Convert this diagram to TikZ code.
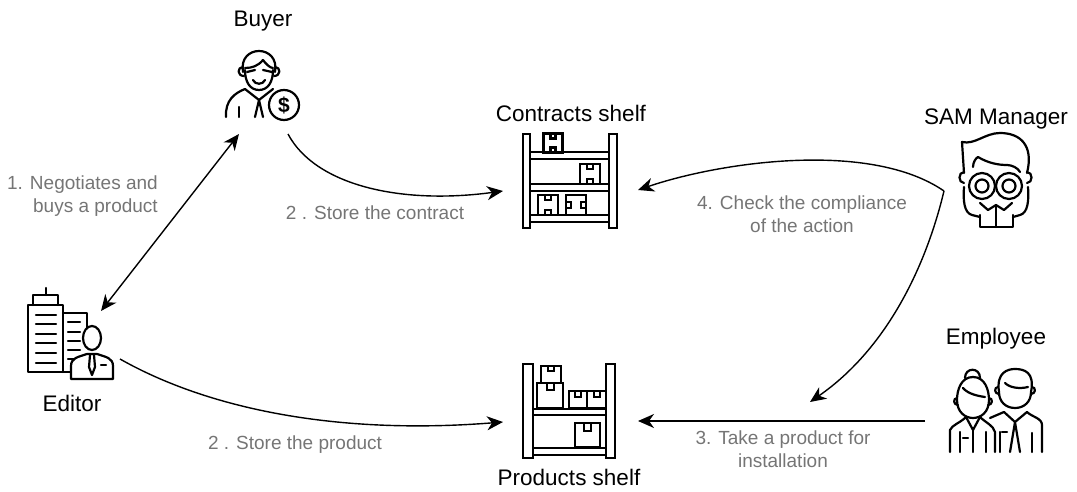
\documentclass[tikz,border=0pt]{standalone}
\usepackage{fontspec}
\setmainfont{Liberation Sans}
\usetikzlibrary{arrows.meta,positioning}
\definecolor{labelgray}{RGB}{117,117,117}
\tikzset{
    >={Stealth[length=16pt,width=14pt,inset=5pt]},
    icon/.style={line width=2.2pt, line cap=round, line join=round},
    shelf/.style={line width=2.8pt, line join=miter},
    role/.style={font=\fontsize{22.5}{24}\selectfont, text=black, inner sep=0pt, anchor=base},
    step label/.style={font=\fontsize{19}{23}\selectfont, text=labelgray, inner sep=0pt, align=center},
    flow/.style={draw, line width=1.4pt, ->},
    spot/.style={inner sep=0pt, minimum size=1pt},
    tapeh/.pic={
        \draw (-10,-10) rectangle (10,10);
        \draw (-3,-10) -- (-3,-5) -- (3,-5) -- (3,-10);
        \draw (-3,10) -- (-3,5) -- (3,5) -- (3,10);
    }
}
\begin{document}
\begin{tikzpicture}[x=1pt,y=-1pt]
    \useasboundingbox (0,0) rectangle (1077,492);
    % buyer
    \begin{scope}[icon]
        \draw (243,72) .. controls (238,44) and (280,44) .. (275,72);
        \draw (245,68) .. controls (252,68) and (258,66) .. (263,60) .. controls (266,64) and (270,68) .. (273,68);
        \draw (245,70) .. controls (245,82) and (250,90) .. (259,90) .. controls (268,90) and (273,82) .. (273,70);
        \draw (243,67) .. controls (237,67) and (237,76) .. (244,76);
        \draw (275,67) .. controls (281,67) and (281,76) .. (274,76);
        \draw (247,72) -- (255,70) (263,70) -- (272,72);
        \draw (253,80) .. controls (255,85) and (263,85) .. (265,80);
        \draw (226,117) .. controls (225,100) and (235,93) .. (245,89) -- (259,100) -- (273,89);
        \draw (239,107) -- (239,117);
        \draw (255,117) -- (259,100) -- (263,117);
        \draw[fill=white] (284,105) circle (15);
        \node[spot, font=\bfseries\fontsize{21}{21}\selectfont] (dollar) at (284,105) {\$};
    \end{scope}
    % editor
    \begin{scope}[icon]
        \draw (71,372) -- (28,372) -- (28,305) -- (63,305) -- (63,372);
        \draw (33,305) -- (33,295) -- (58,295) -- (58,305);
        \draw (46,288) -- (46,295);
        \foreach \ly in {315,324,334,343,353,363}
            \draw (36,\ly) -- (56,\ly);
        \draw (63,313) -- (87,313) -- (87,330);
        \foreach \ly in {322,332,341,350,359}
            \draw (68,\ly) -- (80,\ly);
        \draw[fill=white] (71,379) -- (71,366) .. controls (71,358) and (78,357) .. (87,354) -- (97,354) .. controls (106,357) and (113,358) .. (113,366) -- (113,379) -- cycle;
        \draw[fill=white] (92,338) ellipse (9 and 12);
        \draw (90,355) -- (89,367) -- (92,375) -- (95,367) -- (94,355);
        \draw (101,365) -- (106,365);
    \end{scope}
    % contracts shelf
    \begin{scope}[shelf]
        \foreach \ly in {152,184,215}
            \draw (530,\ly) rectangle (609,\ly+7);
        \draw (523,134) rectangle (530,228);
        \draw (609,134) rectangle (617,228);
        \pic[scale=.95] at (553,143) {tapeh};
        \pic at (590,174) {tapeh};
        \pic at (548,205) {tapeh};
        \pic[rotate=90] at (576,205) {tapeh};
    \end{scope}
    % products shelf
    \begin{scope}[shelf]
        \draw (533,409) rectangle (606,415);
        \draw (533,448) rectangle (606,455);
        \draw (523,364) rectangle (533,458);
        \draw (606,364) rectangle (615,458);
        \draw (541,383) -- (541,366) -- (561,366) -- (561,383);
        \draw (548,366) -- (548,371) -- (554,371) -- (554,366);
        \draw (537,408) rectangle (563,383);
        \draw (547,383) -- (547,390) -- (554,390) -- (554,383);
        \draw (569,408) rectangle (587,391);
        \draw (575,391) -- (575,397) -- (581,397) -- (581,391);
        \draw (587,408) rectangle (606,391);
        \draw (594,391) -- (594,397) -- (600,397) -- (600,391);
        \draw (575,447) rectangle (600,423);
        \draw (584,423) -- (584,431) -- (591,431) -- (591,423);
    \end{scope}
    % sam manager
    \begin{scope}[icon]
        \draw (964,173) -- (962,142) .. controls (975,145) and (985,133) .. (1000,133) .. controls (1020,133) and (1034,145) .. (1027,173);
        \draw (973,167) .. controls (973,162) and (976,158) .. (978,157) .. controls (988,163) and (998,165) .. (1007,165) .. controls (1012,165) and (1018,168) .. (1020,172);
        \draw (964,172) .. controls (958,172) and (958,183) .. (964,183);
        \draw (1027,172) .. controls (1033,172) and (1033,183) .. (1027,183);
        \draw (982,186) circle (13) (982,186) circle (6.5);
        \draw (1009,186) circle (13) (1009,186) circle (6.5);
        \draw (964,187) .. controls (963,200) and (964,213) .. (972,215) -- (980,217);
        \draw (1028,187) .. controls (1029,200) and (1028,213) .. (1020,215) -- (1013,217);
        \draw (980,203) -- (988,210) -- (996,205) -- (1004,210) -- (1012,203);
        \draw (980,215) -- (980,227) -- (1013,227) -- (1013,215);
        \draw (996,205) -- (996,227);
    \end{scope}
    % employee
    \begin{scope}[icon]
        \draw (973,377) .. controls (961,377) and (957,390) .. (957,400) .. controls (957,412) and (965,418) .. (973,418) .. controls (981,418) and (989,412) .. (989,400) .. controls (989,390) and (985,377) .. (973,377);
        \draw (965,378) .. controls (965,367) and (980,367) .. (980,378);
        \draw (963,388) .. controls (968,394) and (978,396) .. (985,397);
        \draw (957,398) .. controls (953,398) and (953,405) .. (958,405);
        \draw (989,398) .. controls (993,398) and (993,405) .. (988,405);
        \draw (950,452) -- (950,430) .. controls (952,425) and (960,423) .. (966,417) -- (973,430) -- (980,417) .. controls (986,423) and (993,425) .. (995,432) -- (995,452);
        \draw (960,432) -- (960,452) (986,432) -- (986,452) (973,430) -- (973,452);
        \draw (963,438) -- (968,438);
        \draw (999,392) .. controls (996,372) and (1008,369) .. (1015,369) .. controls (1024,369) and (1035,372) .. (1031,392) .. controls (1031,402) and (1024,408) .. (1015,408) .. controls (1006,408) and (999,402) .. (999,392);
        \draw (1005,383) .. controls (1010,388) and (1020,389) .. (1028,387);
        \draw (998,387) .. controls (994,387) and (994,394) .. (999,394);
        \draw (1032,387) .. controls (1036,387) and (1036,394) .. (1031,394);
        \draw (990,418) -- (1004,412) -- (1015,422) -- (1027,412) .. controls (1032,417) and (1042,418) .. (1042,425) -- (1042,452);
        \draw (1032,433) -- (1032,452) (1000,432) -- (1000,452);
        \draw (1015,422) -- (1010,452) (1015,422) -- (1020,452);
        \draw (1002,432) -- (1007,432);
    \end{scope}
    \node[role] (buyer) at (263,27) {Buyer};
    \node[role] (contracts) at (571,122) {Contracts shelf};
    \node[role] (sam) at (996,125) {SAM Manager};
    \node[role] (employee) at (996,344) {Employee};
    \node[role] (products) at (569,485) {Products shelf};
    \node[role] (editor) at (72,411) {Editor};
    \coordinate (buyer in) at (239,134);
    \coordinate (buyer out) at (288,134);
    \coordinate (editor in) at (101,311);
    \coordinate (editor out) at (120,359);
    \coordinate (contracts left) at (503,191);
    \coordinate (contracts right) at (638,190);
    \coordinate (products left) at (503,422);
    \coordinate (products right) at (638,421);
    \coordinate (sam out) at (944,191);
    \coordinate (employee out) at (925,421);
    \coordinate (take in) at (810,402);
    \draw[flow,<->] (editor in) -- (buyer in);
    \draw[flow] (buyer out) .. controls (315,185) and (400,205) .. (contracts left);
    \draw[flow] (sam out) .. controls (870,140) and (720,162) .. (contracts right);
    \draw[flow] (sam out) .. controls (925,270) and (885,350) .. (take in);
    \draw[flow] (editor out) .. controls (210,410) and (340,435) .. (products left);
    \draw[flow] (employee out) -- (products right);
    \node[step label, align=right, anchor=east] (negotiates) at (158,196) {1. Negotiates and\\buys a product};
    \node[step label, anchor=base] (store contract) at (375,219) {2 . Store the contract};
    \node[step label] (compliance) at (802,214) {4. Check the compliance\\of the action};
    \node[step label, anchor=base] (store product) at (295,449) {2 . Store the product};
    \node[step label] (take) at (783,449) {3. Take a product for\\installation};
\end{tikzpicture}
\end{document}
